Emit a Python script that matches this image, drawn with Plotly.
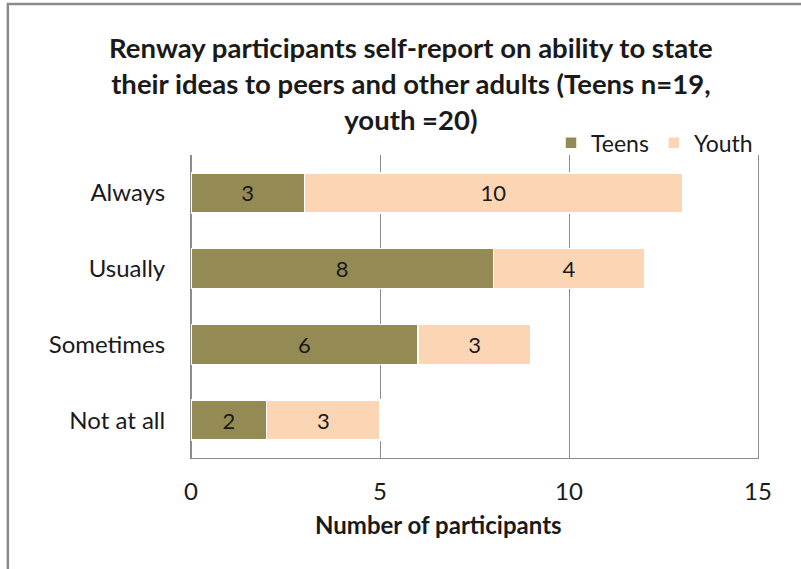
import plotly.graph_objects as go

categories = ["Always", "Usually", "Sometimes", "Not at all"]
teens = [3, 8, 6, 2]
youth = [10, 4, 3, 3]
x_ticks = [0, 5, 10, 15]

FONT = "Lato, 'Open Sans', sans-serif"
TEENS_COLOR = "#948A54"
YOUTH_COLOR = "#FCD5B5"
GRID = "#8C8C8C"

fig = go.Figure()

fig.add_trace(go.Bar(
    y=categories, x=teens, orientation="h", name="Teens",
    marker=dict(color=TEENS_COLOR, line=dict(color="white", width=1.5)),
    text=teens, textposition="inside", insidetextanchor="middle",
    textfont=dict(size=22, color="#1A1A1A", family=FONT),
))
fig.add_trace(go.Bar(
    y=categories, x=youth, orientation="h", name="Youth",
    marker=dict(color=YOUTH_COLOR, line=dict(color="white", width=1.5)),
    text=youth, textposition="inside", insidetextanchor="middle",
    textfont=dict(size=22, color="#1A1A1A", family=FONT),
))

fig.update_layout(
    width=801, height=569,
    barmode="stack",
    bargap=0.47,
    plot_bgcolor="white",
    paper_bgcolor="white",
    font=dict(family=FONT, size=18, color="#1A1A1A"),
    margin=dict(l=191, r=43, t=155, b=111),
    uniformtext=dict(minsize=8, mode="show"),
    title=dict(
        text="<b>Renway participants self-report on ability to state<br>"
             "their ideas to peers and other adults (Teens n=19,<br>"
             "youth =20)</b>",
        x=0.513, xanchor="center", y=0.898, yanchor="middle",
        font=dict(size=27.5, family=FONT, color="#1A1A1A"),
    ),
    legend=dict(
        orientation="h", x=1.0, xanchor="right", y=1.04, yanchor="middle",
        font=dict(size=23, family=FONT),
        bgcolor="rgba(0,0,0,0)", itemwidth=30, traceorder="normal",
    ),
    xaxis=dict(
        range=[0, 15], tickvals=x_ticks, ticks="",
        showgrid=True, gridcolor=GRID, gridwidth=1,
        zeroline=True, zerolinecolor=GRID,
        showline=True, linecolor=GRID, linewidth=1, mirror=False,
        tickfont=dict(size=24, family=FONT),
        ticklabelstandoff=12,
    ),
    yaxis=dict(
        categoryorder="array", categoryarray=categories[::-1],
        showline=True, linecolor=GRID, linewidth=1, mirror=True,
        showgrid=False, ticks="",
        tickfont=dict(size=24, family=FONT),
        ticklabelstandoff=20,
    ),
    annotations=[dict(
        text="<b>Number of participants</b>", xref="paper", yref="paper",
        x=0.436, y=-0.218, xanchor="center", yanchor="middle",
        showarrow=False, font=dict(size=24, family=FONT, color="#1A1A1A"),
    )],
    shapes=[dict(
        type="rect", xref="paper", yref="paper",
        x0=-0.323, x1=1.2, y0=-0.5, y1=1.498,
        line=dict(color="#8A8A8A", width=2.5), layer="below",
    )],
)

fig.write_html("out.html", config={"displayModeBar": False},
               post_script="document.body.style.margin='0';")
